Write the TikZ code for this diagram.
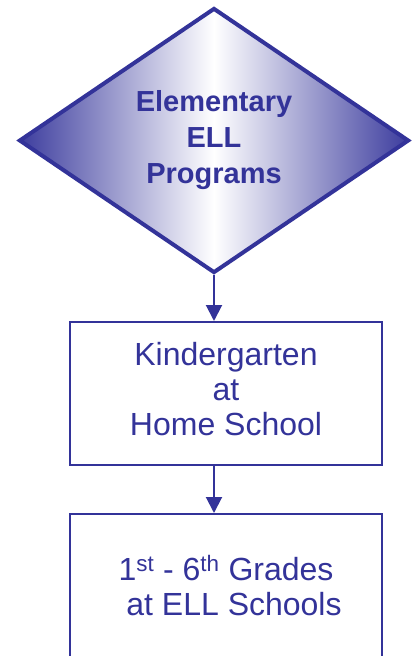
\documentclass[tikz,border=0pt]{standalone}
\usepackage{fontspec}
\setmainfont{Liberation Sans}
\usetikzlibrary{shapes.geometric,arrows.meta}
\definecolor{ellblue}{RGB}{51,51,153}
\tikzset{
  dia/.style={diamond, draw=ellblue, line width=4pt, inner sep=0pt,
    minimum width=390pt, minimum height=265pt,
    left color=ellblue!95, right color=ellblue!95, middle color=white,
    text=ellblue, font=\fontsize{29pt}{36pt}\selectfont\bfseries, align=center},
  stepbox/.style={rectangle, draw=ellblue, line width=2pt, fill=white,
    minimum width=312pt, minimum height=143pt, inner sep=0pt},
  boxtext/.style={text=ellblue, font=\fontsize{32pt}{35pt}\selectfont, align=center, inner sep=0pt},
  arr/.style={draw=ellblue, line width=2pt, -{Triangle[width=16pt,length=16pt]}},
}
\begin{document}
\begin{tikzpicture}[x=1pt,y=-1pt]
\clip (0,0) rectangle (415,656);
\node[dia] (d) at (214,140.5) {Elementary\\ELL\\Programs};
\node[stepbox] (b1) at (226,393.5) {};
\node[boxtext] (t1) at ([yshift=4.5pt]b1.center) {Kindergarten\\at\\Home School};
\node[stepbox, minimum height=144pt] (b2) at (226,586) {};
\node[boxtext] (t2) at (b2.center) {1\textsuperscript{st} - 6\textsuperscript{th} Grades\\\hspace*{16pt}at ELL Schools};
\draw[arr] (d.south) -- (d.south |- b1.north);
\draw[arr] (d.south |- b1.south) -- (d.south |- b2.north);
\end{tikzpicture}
\end{document}
